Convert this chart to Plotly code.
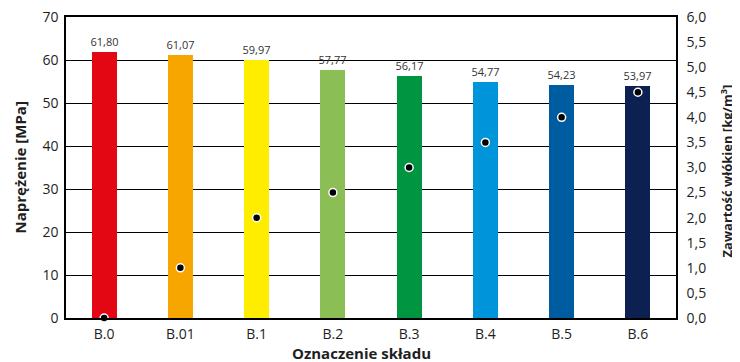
import plotly.graph_objects as go

categories = ["B.0", "B.01", "B.1", "B.2", "B.3", "B.4", "B.5", "B.6"]
stress = [61.80, 61.07, 59.97, 57.77, 56.17, 54.77, 54.23, 53.97]
fiber = [0.0, 1.0, 2.0, 2.5, 3.0, 3.5, 4.0, 4.5]
bar_colors = ["#E30613", "#F7A600", "#FFED00", "#8BBF56", "#009540", "#0095DB", "#005CA1", "#0C2052"]

font_family = "Open Sans, Noto Sans, sans-serif"
txt = "#1e1e1e"

fig = go.Figure()
fig.add_trace(go.Bar(
    x=categories, y=stress, marker=dict(color=bar_colors, line=dict(width=0)),
    width=0.33, texttemplate="%{y:.2f}", textposition="outside",
    constraintext="none",
    textfont=dict(size=11, color="#333333", family=font_family),
    cliponaxis=False, showlegend=False, yaxis="y",
))
fig.add_trace(go.Scatter(
    x=categories, y=fiber, mode="markers", yaxis="y2",
    marker=dict(size=8, color="black", line=dict(color="white", width=1.5)),
    cliponaxis=False, showlegend=False,
))

fig.update_layout(
    width=732, height=354,
    margin=dict(l=58, r=64, t=9, b=44, autoexpand=False),
    paper_bgcolor="white", plot_bgcolor="white",
    separators=", ",
    font=dict(family=font_family, color=txt),
    xaxis=dict(
        showline=True, linecolor="black", linewidth=1.5, mirror=True,
        tickfont=dict(size=14, color=txt), ticks="outside", ticklen=2,
        tickcolor="rgba(0,0,0,0)", automargin=False,
    ),
    yaxis=dict(
        range=[0, 70], dtick=10, showgrid=True, gridcolor="black", gridwidth=1,
        showline=True, linecolor="black", linewidth=1.5, automargin=False,
        tickfont=dict(size=14, color=txt), ticks="outside", ticklen=3,
        tickcolor="rgba(0,0,0,0)", zeroline=False, ticklabeloverflow="allow",
    ),
    yaxis2=dict(
        range=[0, 6], dtick=0.5, tickformat=".1f", overlaying="y", side="right",
        showgrid=False, showline=True, linecolor="black", linewidth=1.5, automargin=False,
        tickfont=dict(size=14, color=txt), ticks="outside", ticklen=6,
        tickcolor="rgba(0,0,0,0)", zeroline=False, ticklabeloverflow="allow",
    ),
    bargap=0,
    annotations=[
        dict(text="<b>Naprężenie [MPa]</b>", xref="paper", yref="paper", x=0, y=0.5,
             xanchor="center", yanchor="middle", xshift=-47, textangle=-90,
             showarrow=False, font=dict(size=15, color=txt)),
        dict(text="<b>Zawartość włókien [kg/m<sup>3</sup>]</b>", xref="paper", yref="paper",
             x=1, y=0.487, xanchor="center", yanchor="middle", xshift=50, textangle=-90,
             showarrow=False, font=dict(size=13, color=txt)),
        dict(text="<b>Oznaczenie składu</b>", xref="paper", yref="paper", x=0.484, y=0,
             xanchor="center", yanchor="middle", yshift=-35,
             showarrow=False, font=dict(size=15, color=txt)),
    ],
)

fig.write_html("out.html")
